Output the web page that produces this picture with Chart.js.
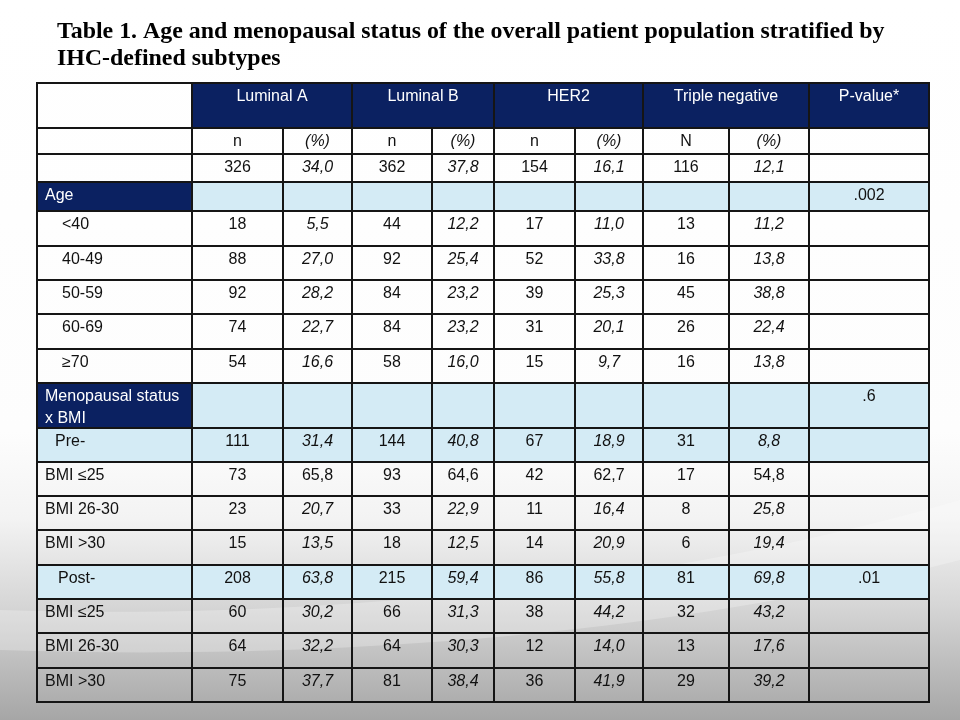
<!DOCTYPE html>
<html>
<head>
<meta charset="utf-8">
<script src="https://cdn.jsdelivr.net/npm/chart.js@4/dist/chart.umd.min.js"></script>
<style>
  body { margin: 0; background: #fff; }
  canvas { display: block; }
</style>
</head>
<body>
<canvas id="tableChart" width="960" height="720"></canvas>
<script>
// Data of the table
var titleLines = [
  "Table 1. Age and menopausal status of the overall patient population stratified by",
  "IHC-defined subtypes"
];
var subtypes = ["Luminal A", "Luminal B", "HER2", "Triple negative"];
var subHeads = ["n", "(%)", "n", "(%)", "n", "(%)", "N", "(%)"];
var totalN = [326, 362, 154, 116];
var totalPct = [34.0, 37.8, 16.1, 12.1];

var rowLabels = ["Age", "<40", "40-49", "50-59", "60-69", "\u226570",
  "Menopausal status|x BMI", "Pre-", "BMI \u226425", "BMI 26-30", "BMI >30",
  "Post-", "BMI \u226425", "BMI 26-30", "BMI >30"];
var lumA_n   = [null, 18, 88, 92, 74, 54, null, 111, 73, 23, 15, 208, 60, 64, 75];
var lumA_pct = [null, 5.5, 27.0, 28.2, 22.7, 16.6, null, 31.4, 65.8, 20.7, 13.5, 63.8, 30.2, 32.2, 37.7];
var lumB_n   = [null, 44, 92, 84, 84, 58, null, 144, 93, 33, 18, 215, 66, 64, 81];
var lumB_pct = [null, 12.2, 25.4, 23.2, 23.2, 16.0, null, 40.8, 64.6, 22.9, 12.5, 59.4, 31.3, 30.3, 38.4];
var her2_n   = [null, 17, 52, 39, 31, 15, null, 67, 42, 11, 14, 86, 38, 12, 36];
var her2_pct = [null, 11.0, 33.8, 25.3, 20.1, 9.7, null, 18.9, 62.7, 16.4, 20.9, 55.8, 44.2, 14.0, 41.9];
var tn_n     = [null, 13, 16, 45, 26, 16, null, 31, 17, 8, 6, 81, 32, 13, 29];
var tn_pct   = [null, 11.2, 13.8, 38.8, 22.4, 13.8, null, 8.8, 54.8, 25.8, 19.4, 69.8, 43.2, 17.6, 39.2];
var pValues  = [".002", "", "", "", "", "", ".6", "", "", "", "", ".01", "", "", ""];

// Layout (scale units) and styles
var colW = [155, 91, 69, 80, 62, 81, 68, 86, 80, 120];
var rowH = [45, 26, 28, 29, 35, 34, 34, 35, 34, 45, 34, 34, 34, 35, 34, 34, 35, 34];
var rowKind = ["section", "", "", "", "", "", "section", "group", "", "", "", "group", "", "", ""];
var rowIndent = [8, 25, 25, 25, 25, 25, 8, 18, 8, 8, 8, 21, 8, 8, 8];
var uprightPctRows = [8];

var NAVY = "#0b2161";
var LIGHT = "#d4ebf5";
var FONT = "Liberation Sans, Arial, sans-serif";

function sum(arr, n) {
  var s = 0;
  for (var i = 0; i < n; i++) s += arr[i];
  return s;
}
function fmtPct(v) {
  return v.toFixed(1).replace(".", ",");
}

var tablePlugin = {
  id: "tablePlugin",
  beforeDraw: function (chart) {
    var c = chart.ctx;
    var h = chart.height, w = chart.width;
    var g = c.createLinearGradient(0, 0, 0, h);
    g.addColorStop(0, "#ffffff");
    g.addColorStop(0.6, "#fdfdfd");
    g.addColorStop(0.72, "#f3f3f3");
    g.addColorStop(0.84, "#d6d6d6");
    g.addColorStop(1, "#a6a6a6");
    c.save();
    c.fillStyle = g;
    c.fillRect(0, 0, w, h);
    // soft light swoosh across the bottom
    c.beginPath();
    c.moveTo(0, 610);
    c.bezierCurveTo(300, 620, 650, 590, w, 500);
    c.lineTo(w, 560);
    c.bezierCurveTo(650, 640, 300, 660, 0, 650);
    c.closePath();
    c.fillStyle = "rgba(255,255,255,0.25)";
    c.fill();
    c.restore();
  },
  afterDraw: function (chart) {
    var c = chart.ctx;
    var xs = chart.scales.x, ys = chart.scales.y;
    function X(col) { return xs.getPixelForValue(sum(colW, col)); }
    function Y(row) { return ys.getPixelForValue(sum(rowH, row)); }

    c.save();
    // title, fitted to the reference width
    c.fillStyle = "#000";
    c.textBaseline = "alphabetic";
    c.textAlign = "left";
    var fs = 22;
    c.font = "bold " + fs + "px 'Liberation Serif', 'Times New Roman', serif";
    var tw = c.measureText(titleLines[0]).width;
    fs = fs * 828 / tw;
    c.font = "bold " + fs + "px 'Liberation Serif', 'Times New Roman', serif";
    c.fillText(titleLines[0], 57, 38);
    c.fillText(titleLines[1], 57, 65);

    var cells = [];
    function cell(c0, c1, r, fill, lines, opt) {
      cells.push({ c0: c0, c1: c1, r: r, fill: fill, lines: lines, opt: opt || {} });
    }

    // header rows
    cell(0, 1, 0, null, []);
    for (var i = 0; i < subtypes.length; i++) {
      cell(1 + 2 * i, 3 + 2 * i, 0, NAVY, [subtypes[i]], { color: "#fff" });
    }
    cell(9, 10, 0, NAVY, ["P-value*"], { color: "#fff" });
    cell(0, 1, 1, null, []);
    for (var k = 0; k < subHeads.length; k++) {
      cell(1 + k, 2 + k, 1, null, [subHeads[k]], { italic: k % 2 === 1 });
    }
    cell(9, 10, 1, null, []);
    cell(0, 1, 2, null, []);
    for (var t = 0; t < totalN.length; t++) {
      cell(1 + 2 * t, 2 + 2 * t, 2, null, [String(totalN[t])]);
      cell(2 + 2 * t, 3 + 2 * t, 2, null, [fmtPct(totalPct[t])], { italic: true });
    }
    cell(9, 10, 2, null, []);

    // body rows
    var nCols = [lumA_n, lumB_n, her2_n, tn_n];
    var pCols = [lumA_pct, lumB_pct, her2_pct, tn_pct];
    for (var r = 0; r < rowLabels.length; r++) {
      var row = r + 3;
      var kind = rowKind[r];
      var labFill = kind === "section" ? NAVY : (kind === "group" ? LIGHT : null);
      var restFill = kind ? LIGHT : null;
      cell(0, 1, row, labFill, rowLabels[r].split("|"),
        { align: "left", indent: rowIndent[r], color: kind === "section" ? "#fff" : "#111" });
      for (var s = 0; s < 4; s++) {
        var nv = nCols[s][r], pv = pCols[s][r];
        cell(1 + 2 * s, 2 + 2 * s, row, restFill, nv === null ? [] : [String(nv)]);
        cell(2 + 2 * s, 3 + 2 * s, row, restFill, pv === null ? [] : [fmtPct(pv)],
          { italic: uprightPctRows.indexOf(r) < 0 });
      }
      cell(9, 10, row, restFill, pValues[r] ? [pValues[r]] : []);
    }

    // fills
    cells.forEach(function (cl) {
      if (!cl.fill) return;
      c.fillStyle = cl.fill;
      c.fillRect(X(cl.c0), Y(cl.r), X(cl.c1) - X(cl.c0), Y(cl.r + 1) - Y(cl.r));
    });
    // borders
    c.strokeStyle = "#151515";
    c.lineWidth = 2;
    cells.forEach(function (cl) {
      c.strokeRect(X(cl.c0), Y(cl.r), X(cl.c1) - X(cl.c0), Y(cl.r + 1) - Y(cl.r));
    });
    // text
    c.textBaseline = "middle";
    cells.forEach(function (cl) {
      var o = cl.opt;
      c.fillStyle = o.color || "#111";
      c.font = (o.italic ? "italic " : "") + "16px " + FONT;
      var top = Y(cl.r);
      cl.lines.forEach(function (txt, li) {
        if (o.align === "left") {
          c.textAlign = "left";
          c.fillText(txt, X(cl.c0) + o.indent, top + 14 + li * 22);
        } else {
          c.textAlign = "center";
          c.fillText(txt, (X(cl.c0) + X(cl.c1)) / 2, top + 14 + li * 22);
        }
      });
    });
    c.restore();
  }
};

var ctx = document.getElementById("tableChart").getContext("2d");
var tableChart = new Chart(ctx, {
  type: "scatter",
  data: { datasets: [] },
  options: {
    responsive: false,
    animation: false,
    layout: { padding: { left: 37, right: 31, top: 83, bottom: 18 } },
    scales: {
      x: { type: "linear", min: 0, max: sum(colW, colW.length), display: false },
      y: { type: "linear", min: 0, max: sum(rowH, rowH.length), reverse: true, display: false }
    },
    plugins: { legend: { display: false }, tooltip: { enabled: false } }
  },
  plugins: [tablePlugin]
});
</script>
</body>
</html>
